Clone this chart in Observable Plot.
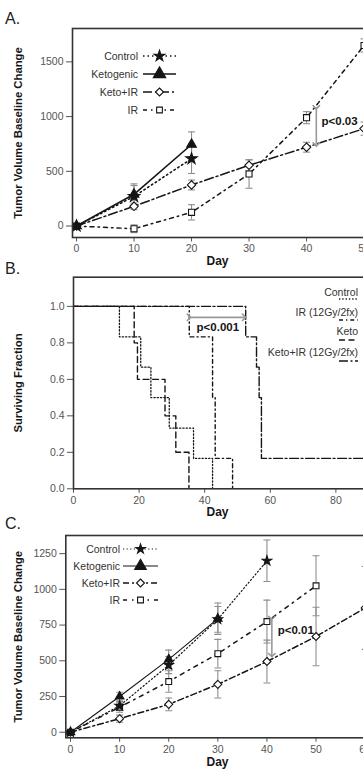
<!DOCTYPE html>
<html><head><meta charset="utf-8">
<script src="https://cdn.jsdelivr.net/npm/d3@7"></script>
<script src="https://cdn.jsdelivr.net/npm/@observablehq/plot@0.6"></script>
<style>
html,body{margin:0;padding:0;background:#fff;overflow:hidden;}
#wrap{position:relative;width:363px;height:773px;overflow:hidden;font-family:"Liberation Sans",Arial,sans-serif;}
#wrap > svg{display:block;max-width:none !important;}
#overlay{position:absolute;left:0;top:0;}
</style></head><body><div id="wrap"></div>
<script>
// ---------- Panel A: tumor volume (days) ----------
const aGroups = ["Control", "Ketogenic", "Keto+IR", "IR"];
const aControlDay = [0, 10, 20];
const aControlVal = [0, 270, 615];
const aControlErr = [10, 100, 135];
const aKetoDay = [0, 10, 20];
const aKetoVal = [0, 290, 745];
const aKetoErr = [10, 95, 115];
const aKetoIRDay = [0, 10, 20, 30, 40, 50];
const aKetoIRVal = [0, 180, 375, 555, 720, 890];
const aKetoIRErr = [10, 30, 45, 50, 45, 60];
const aIRDay = [0, 10, 20, 30, 40, 50];
const aIRVal = [0, -25, 125, 475, 990, 1650];
const aIRErr = [10, 35, 70, 130, 55, 60];
const aYTicks = [0, 500, 1000, 1500];
const aXTicks = [0, 10, 20, 30, 40, 50];
const aPDay = [41.7];
const aPFrom = [1085];
const aPTo = [745];
const aPText = ["p<0.03"];
const aPTextDay = [42.6];
const aPTextVal = [955];

// ---------- Panel B: survival ----------
const bGroups = ["Control", "IR (12Gy/2fx)", "Keto", "Keto+IR (12Gy/2fx)"];
const bControlT = [0, 14, 20.5, 23.6, 29.2, 36.6, 42.4];
const bControlS = [1, 0.833, 0.667, 0.5, 0.333, 0.167, 0];
const bIRT = [0, 35.3, 42.4, 43.2, 48.5];
const bIRS = [1, 0.833, 0.5, 0.167, 0];
const bKetoT = [0, 18.5, 19.5, 27.9, 31.2, 35.2];
const bKetoS = [1, 0.8, 0.6, 0.4, 0.2, 0];
const bKetoIRT = [0, 52.5, 55.8, 56.6, 57.3, 100];
const bKetoIRS = [1, 0.833, 0.667, 0.5, 0.167, 0.167];
const bYTicks = [0, 0.2, 0.4, 0.6, 0.8, 1.0];
const bXTicks = [0, 20, 40, 60, 80, 100];
const bPFrom = [35.2];
const bPTo = [52];
const bPVal = [0.94];
const bPText = ["p<0.001"];
const bPTextDay = [44];
const bPTextVal = [0.885];

// ---------- Panel C: tumor volume (days) ----------
const cGroups = ["Control", "Ketogenic", "Keto+IR", "IR"];
const cControlDay = [0, 10, 20, 30, 40];
const cControlVal = [0, 185, 470, 790, 1200];
const cControlErr = [10, 30, 60, 90, 145];
const cKetoDay = [0, 10, 20, 30];
const cKetoVal = [0, 250, 510, 795];
const cKetoErr = [10, 30, 65, 110];
const cKetoIRDay = [0, 10, 20, 30, 40, 50, 60];
const cKetoIRVal = [0, 95, 195, 335, 495, 670, 870];
const cKetoIRErr = [10, 25, 45, 95, 150, 205, 290];
const cIRDay = [0, 10, 20, 30, 40, 50];
const cIRVal = [0, 175, 355, 550, 775, 1025];
const cIRErr = [10, 35, 75, 100, 150, 210];
const cYTicks = [0, 250, 500, 750, 1000, 1250];
const cXTicks = [0, 10, 20, 30, 40, 50, 60];
const cPDay = [41];
const cPFrom = [800];
const cPTo = [540];
const cPText = ["p<0.01"];
const cPTextDay = [42.2];
const cPTextVal = [712];

// ---------- helpers ----------
const FONT = '"Liberation Sans", Arial, sans-serif';
const ERR = "#8e8e8e";
const INK = "#151515";
const capSymbol = {draw(ctx, size) { const w = Math.sqrt(size / Math.PI); ctx.moveTo(-w, 0); ctx.lineTo(w, 0); }};
function rows(group, days, vals, errs) {
  return days.map((d, i) => ({group, day: d, v: vals[i], e: errs[i]}));
}
function steps(group, t, s) { return t.map((d, i) => ({group, t: d, s: s[i]})); }

const styleA = {
  "Control":   {dash: "1.5 3", w: 1.6, symbol: "star", fill: INK, r: 3.6},
  "Ketogenic": {dash: null, w: 1.6, symbol: "triangle", fill: INK, r: 3.6},
  "Keto+IR":   {dash: "9 3 2 3", w: 1.5, symbol: "diamond2", fill: "white", r: 3.8},
  "IR":        {dash: "4 4 1.5 4", w: 1.5, symbol: "square", fill: "white", r: 3.4}
};
const styleC = {
  "Control":   {dash: "1.2 2.4", w: 1.2, symbol: "star", fill: INK, r: 3},
  "Ketogenic": {dash: null, w: 1.1, symbol: "triangle", fill: INK, r: 3.2},
  "Keto+IR":   {dash: "6 3 2 3", w: 1.5, symbol: "diamond2", fill: "white", r: 3.6},
  "IR":        {dash: "4 5 1.5 5", w: 1.5, symbol: "square", fill: "white", r: 3.3}
};
const styleB = {
  "Control": {dash: "1.3 2", w: 1.3},
  "IR (12Gy/2fx)": {dash: "4 3 1.3 3", w: 1.4},
  "Keto": {dash: "6 3.5", w: 1.4},
  "Keto+IR (12Gy/2fx)": {dash: "9 2.5 2 2.5", w: 1.4}
};

function tumorPanel(data, groups, style, cfg) {
  const marks = [];
  for (const g of groups) {
    const d = data.filter(r => r.group === g);
    marks.push(Plot.ruleX(d, {x: "day", y1: r => r.v - r.e, y2: r => r.v + r.e, stroke: ERR, strokeWidth: 1.1, clip: true}));
    marks.push(Plot.dot(d, {x: "day", y: r => r.v + r.e, symbol: capSymbol, r: 3.5, stroke: ERR, fill: "none", strokeWidth: 1.1, clip: true}));
    marks.push(Plot.dot(d, {x: "day", y: r => r.v - r.e, symbol: capSymbol, r: 3.5, stroke: ERR, fill: "none", strokeWidth: 1.1, clip: true}));
  }
  for (const g of groups) {
    const d = data.filter(r => r.group === g), s = style[g];
    marks.push(Plot.line(d, {x: "day", y: "v", stroke: INK, strokeWidth: s.w, strokeDasharray: s.dash, clip: true}));
  }
  for (const g of groups) {
    const d = data.filter(r => r.group === g), s = style[g];
    marks.push(Plot.dot(d, {x: "day", y: "v", symbol: s.symbol, r: s.r, fill: s.fill, stroke: INK, strokeWidth: 1.1, clip: true}));
  }
  marks.push(Plot.link(cfg.pDay.map((d, i) => ({x: d, y1: cfg.pFrom[i], y2: cfg.pTo[i]})),
    {x1: "x", x2: "x", y1: "y1", y2: "y2", stroke: "#999", strokeWidth: 1.6, markerStart: "arrow", markerEnd: "arrow"}));
  marks.push(Plot.text(cfg.pText, {x: cfg.pTextDay, y: cfg.pTextVal, text: d => d, textAnchor: "start", fontWeight: "bold", fontSize: 11.5, fill: INK}));
  marks.push(Plot.axisY({ticks: cfg.yTicks, tickFormat: d => String(d), tickSize: 6, tickPadding: 3, label: null, color: "#555", fontSize: 10.5}));
  marks.push(Plot.axisX({ticks: cfg.xTicks, tickFormat: d => String(d), tickSize: 4.5, tickPadding: 3, label: null, color: "#555", fontSize: 10.5}));
  marks.push(Plot.frame({stroke: "#333", strokeWidth: 1.6}));
  marks.push(Plot.text(["Tumor Volume Baseline Change"], {frameAnchor: "left", textAnchor: "middle", dx: cfg.ylabDx, rotate: -90, fontWeight: "bold", fontSize: 11.3, fill: INK}));
  marks.push(Plot.text(["Day"], {frameAnchor: "bottom-left", dx: cfg.dayDx, dy: cfg.dayDy, textAnchor: "middle", fontWeight: "bold", fontSize: 12, fill: INK}));
  return Plot.plot({
    width: 400, height: cfg.height,
    marginLeft: cfg.ml, marginRight: 0, marginTop: cfg.mt, marginBottom: cfg.mb,
    x: {domain: cfg.xDomain}, y: {domain: cfg.yDomain},
    style: {fontFamily: FONT, fontSize: "10.5px", background: "white", overflow: "visible", maxWidth: "none"},
    marks
  });
}

const dataA = [
  ...rows("Control", aControlDay, aControlVal, aControlErr),
  ...rows("Ketogenic", aKetoDay, aKetoVal, aKetoErr),
  ...rows("Keto+IR", aKetoIRDay, aKetoIRVal, aKetoIRErr),
  ...rows("IR", aIRDay, aIRVal, aIRErr)
];
const dataC = [
  ...rows("Control", cControlDay, cControlVal, cControlErr),
  ...rows("Ketogenic", cKetoDay, cKetoVal, cKetoErr),
  ...rows("Keto+IR", cKetoIRDay, cKetoIRVal, cKetoIRErr),
  ...rows("IR", cIRDay, cIRVal, cIRErr)
];
const orderA = ["IR", "Keto+IR", "Control", "Ketogenic"];

const plotA = tumorPanel(dataA, orderA, styleA, {
  height: 272, ml: 72, mt: 28, mb: 35,
  xDomain: [-0.7, 56.34], yDomain: [-105, 1805],
  yTicks: aYTicks, xTicks: aXTicks,
  pDay: aPDay, pFrom: aPFrom, pTo: aPTo, pText: aPText, pTextDay: aPTextDay, pTextVal: aPTextVal,
  ylabDx: -54, dayDx: 145, dayDy: 27
});

const plotC = tumorPanel(dataC, orderA, styleC, {
  height: 251, ml: 65.3, mt: 13, mb: 35.7,
  xDomain: [-0.96, 67.2], yDomain: [-39, 1377],
  yTicks: cYTicks, xTicks: cXTicks,
  pDay: cPDay, pFrom: cPFrom, pTo: cPTo, pText: cPText, pTextDay: cPTextDay, pTextVal: cPTextVal,
  ylabDx: -47.3, dayDx: 151.7, dayDy: 28
});

// Panel B
const dataB = [
  ...steps("Control", bControlT, bControlS),
  ...steps("IR (12Gy/2fx)", bIRT, bIRS),
  ...steps("Keto", bKetoT, bKetoS),
  ...steps("Keto+IR (12Gy/2fx)", bKetoIRT, bKetoIRS)
];
const bMarks = [];
for (const g of bGroups) {
  const s = styleB[g];
  bMarks.push(Plot.line(dataB.filter(r => r.group === g), {x: "t", y: "s", curve: "step-after", stroke: INK, strokeWidth: s.w, strokeDasharray: s.dash, clip: true}));
}
bMarks.push(Plot.link(bPFrom.map((d, i) => ({x1: d, x2: bPTo[i], y: bPVal[i]})),
  {x1: "x1", x2: "x2", y1: "y", y2: "y", stroke: "#999", strokeWidth: 1.6, markerStart: "arrow", markerEnd: "arrow"}));
bMarks.push(Plot.text(bPText, {x: bPTextDay, y: bPTextVal, text: d => d, fontWeight: "bold", fontSize: 11.5, fill: INK}));
bMarks.push(Plot.axisY({ticks: bYTicks, tickFormat: d3.format(".1f"), tickSize: 6, tickPadding: 3, label: null, color: "#555", fontSize: 10.5}));
bMarks.push(Plot.axisX({ticks: bXTicks, tickFormat: d => String(d), tickSize: 4.5, tickPadding: 3, label: null, color: "#555", fontSize: 10.5}));
bMarks.push(Plot.frame({stroke: "#333", strokeWidth: 1.6}));
bMarks.push(Plot.text(["Surviving Fraction"], {frameAnchor: "left", textAnchor: "middle", dx: -55, rotate: -90, fontWeight: "bold", fontSize: 11.3, fill: INK}));
bMarks.push(Plot.text(["Day"], {frameAnchor: "bottom-left", dx: 144, dy: 27, textAnchor: "middle", fontWeight: "bold", fontSize: 12, fill: INK}));
const plotB = Plot.plot({
  width: 400, height: 250,
  marginLeft: 73, marginRight: 0, marginTop: 4.7, marginBottom: 33.7,
  x: {domain: [0, 99.7]}, y: {domain: [0, 1.16]},
  style: {fontFamily: FONT, fontSize: "10.5px", background: "white", overflow: "visible", maxWidth: "none"},
  marks: bMarks
});

const wrap = document.getElementById("wrap");
wrap.append(plotA, plotB, plotC);

// ---------- overlay: panel letters and legends ----------
const ov = d3.select(wrap).append("svg").attr("id", "overlay").attr("width", 363).attr("height", 773)
  .style("font-family", FONT);
[["A.", 18], ["B.", 268], ["C.", 523]].forEach(([t, y]) => {
  ov.append("text").attr("x", 5).attr("y", y).attr("dy", "0.35em").attr("font-size", 16).attr("fill", "#222").text(t);
});
const symMap = {star: d3.symbolStar, triangle: d3.symbolTriangle, diamond2: d3.symbolDiamond2, square: d3.symbolSquare};
function legendRows(groups, style, ys, textEnd, x1, x2, symScale) {
  groups.forEach((g, i) => {
    const s = style[g], y = ys[i];
    ov.append("text").attr("x", textEnd).attr("y", y).attr("dy", "0.35em").attr("text-anchor", "end")
      .attr("font-size", 10.5).attr("fill", "#333").text(g);
    ov.append("line").attr("x1", x1).attr("x2", x2).attr("y1", y).attr("y2", y)
      .attr("stroke", INK).attr("stroke-width", s.w).attr("stroke-dasharray", s.dash);
    const r = s.r * (s.symbol === "triangle" ? symScale * 1.35 : symScale);
    ov.append("path").attr("transform", `translate(${(x1 + x2) / 2},${y})`)
      .attr("d", d3.symbol(symMap[s.symbol], Math.PI * r * r)())
      .attr("fill", s.fill).attr("stroke", INK).attr("stroke-width", 1.1);
  });
}
legendRows(aGroups, styleA, [56, 74, 92, 110], 138, 143, 176, 0.95);
legendRows(cGroups, styleC, [549, 566, 583, 600], 120, 123, 158, 1.0);
bGroups.forEach((g, i) => {
  const s = styleB[g];
  const yT = [292, 312, 331, 352][i], yL = [299, 320, 340, 361][i];
  ov.append("text").attr("x", 358).attr("y", yT).attr("dy", "0.35em").attr("text-anchor", "end")
    .attr("font-size", 10.5).attr("fill", "#333").text(g);
  ov.append("line").attr("x1", 339).attr("x2", 358).attr("y1", yL).attr("y2", yL)
    .attr("stroke", INK).attr("stroke-width", s.w).attr("stroke-dasharray", s.dash);
});
</script></body></html>
